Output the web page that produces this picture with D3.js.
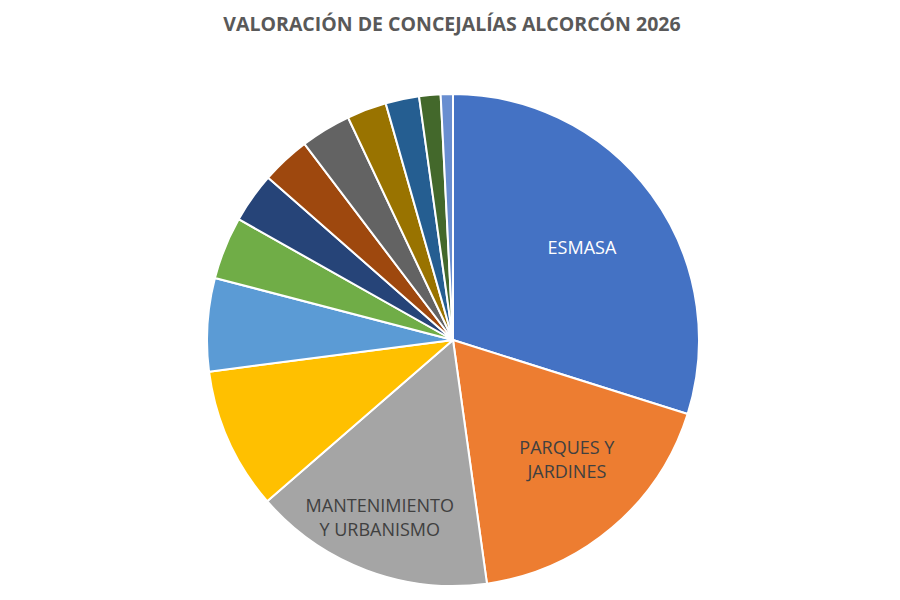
<!DOCTYPE html>
<html>
<head>
<meta charset="utf-8">
<title>Valoración de concejalías Alcorcón 2026</title>
<script src="https://d3js.org/d3.v7.min.js"></script>
<style>
  body { margin: 0; background: #fff; }
</style>
</head>
<body>
<script>
// slice data, clockwise from 12 o'clock (percent of total)
const categories = ["ESMASA", "PARQUES Y JARDINES", "MANTENIMIENTO Y URBANISMO",
  "Concejalía 4", "Concejalía 5", "Concejalía 6", "Concejalía 7", "Concejalía 8",
  "Concejalía 9", "Concejalía 10", "Concejalía 11", "Concejalía 12", "Concejalía 13"];
const values = [29.8, 17.9, 15.8, 9.3, 6.1, 4.1, 3.3, 3.2, 3.3, 2.6, 2.2, 1.4, 0.8];
// only the three biggest slices carry a label; lines split on "|"
const labels = ["ESMASA", "PARQUES Y|JARDINES", "MANTENIMIENTO|Y URBANISMO",
  "", "", "", "", "", "", "", "", "", ""];
const colors = ["#4472C4", "#ED7D31", "#A5A5A5", "#FFC000", "#5B9BD5", "#70AD47",
  "#264478", "#9E480E", "#636363", "#997300", "#255E91", "#43682B", "#698ED0"];
const titleText = "VALORACIÓN DE CONCEJALÍAS ALCORCÓN 2026";

const width = 900, height = 600;
const cx = 453, cy = 340, radius = 246;

const svg = d3.select("body").append("svg")
  .attr("width", width)
  .attr("height", height);

svg.append("text")
  .attr("x", 452)
  .attr("y", 31)
  .attr("text-anchor", "middle")
  .attr("font-family", "'Open Sans', sans-serif")
  .attr("font-weight", "bold")
  .attr("font-size", 19.5)
  .attr("fill", "#595959")
  .text(titleText);

const pie = d3.pie().sort(null).value(d => d);
const arcs = pie(values);

const arc = d3.arc().innerRadius(0).outerRadius(radius);
const color = d3.scaleOrdinal().domain(categories).range(colors);

const g = svg.append("g").attr("transform", `translate(${cx},${cy})`);

g.selectAll("path.slice")
  .data(arcs)
  .join("path")
  .attr("class", "slice")
  .attr("d", arc)
  .attr("fill", (d, i) => color(categories[i]))
  .attr("stroke", "#fff")
  .attr("stroke-width", 2)
  .attr("stroke-linejoin", "round");

// label radius (fraction of radius) and a small nudge, like Excel's best fit
const labelR = i => radius * (i === 2 ? 0.79 : 0.66);
const nudge = { 0: [-2, 4], 1: [9, -4], 2: [-5, -4] };
const labelArc = i => d3.arc().innerRadius(labelR(i)).outerRadius(labelR(i));

const lbl = g.selectAll("text.lbl")
  .data(arcs.filter((d, i) => labels[i]))
  .join("text")
  .attr("class", "lbl")
  .attr("text-anchor", "middle")
  .attr("font-family", "'Open Sans', sans-serif")
  .attr("font-size", 18)
  .attr("fill", d => d.index === 0 ? "#fff" : "#404040")
  .attr("transform", d => {
    const [x, y] = labelArc(d.index).centroid(d);
    const [nx, ny] = nudge[d.index] || [0, 0];
    return `translate(${x + nx},${y + ny})`;
  });

lbl.each(function (d) {
  const lines = labels[d.index].split("|");
  const t = d3.select(this);
  const lh = 24;
  lines.forEach((s, k) => {
    t.append("tspan")
      .attr("x", 0)
      .attr("y", (k - (lines.length - 1) / 2) * lh)
      .attr("dy", "0.36em")
      .text(s);
  });
});
</script>
</body>
</html>
